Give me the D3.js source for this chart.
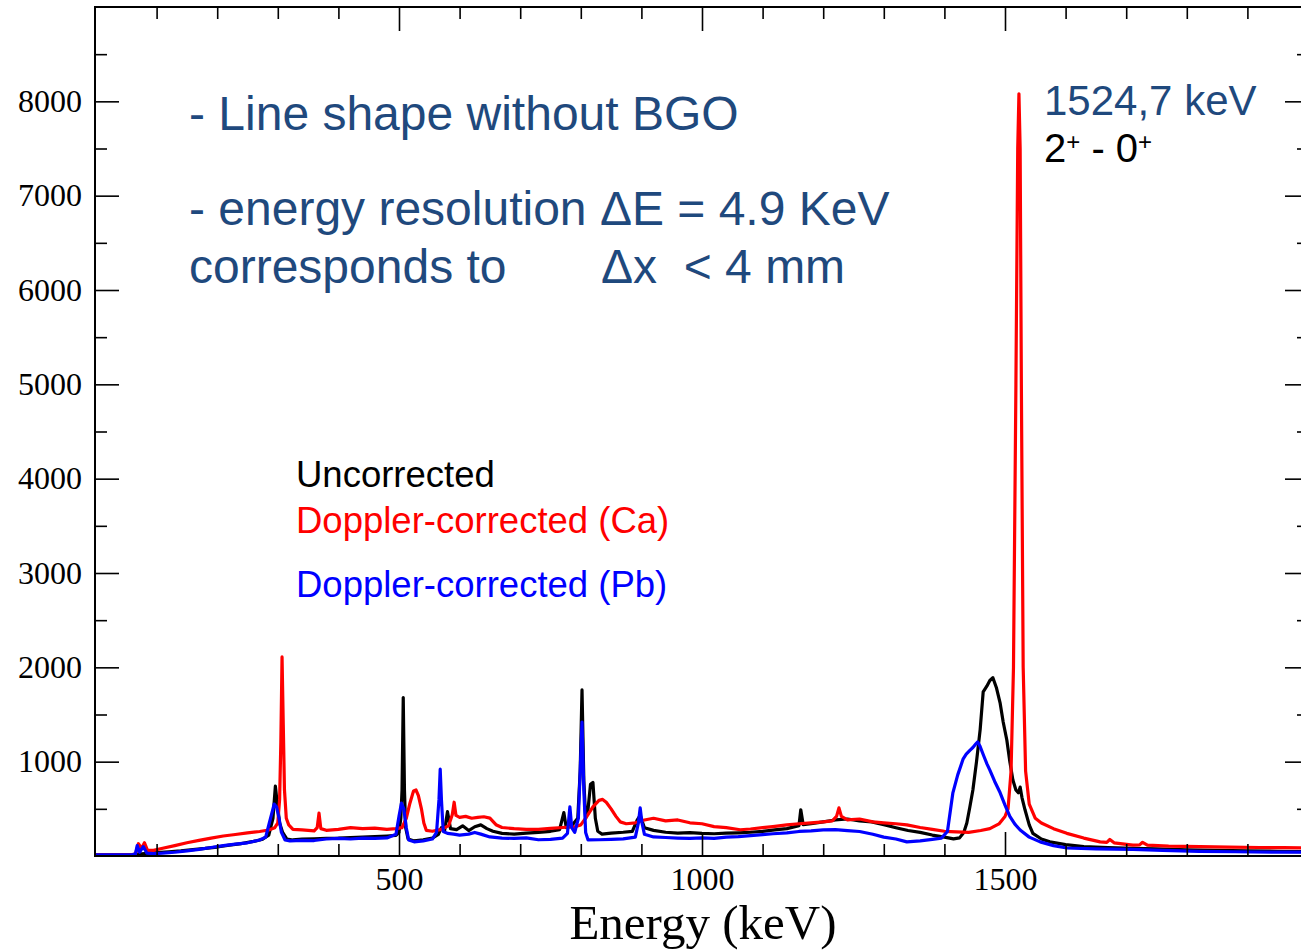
<!DOCTYPE html>
<html>
<head>
<meta charset="utf-8">
<script src="https://cdn.jsdelivr.net/npm/d3@7"></script>
<style>
  html, body { margin: 0; padding: 0; background: #fff; overflow: hidden; }
  svg { display: block; }
</style>
</head>
<body>
<svg id="chart" width="1301" height="950"></svg>
<script>
// ---------------- DATA ----------------
const xMajorTicks = [500, 1000, 1500];
const xMinorTicks = [100, 200, 300, 400, 600, 700, 800, 900, 1100, 1200, 1300, 1400, 1600, 1700, 1800, 1900];
const yMajorTicks = [1000, 2000, 3000, 4000, 5000, 6000, 7000, 8000];
const yMinorTicks = [500, 1500, 2500, 3500, 4500, 5500, 6500, 7500, 8500];

const seriesNames = ["Uncorrected", "Doppler-corrected (Ca)", "Doppler-corrected (Pb)"];

// Uncorrected (black)
const blackE = [0, 30, 60, 70, 80, 90, 100, 120, 140, 160, 180, 200, 220, 240, 260, 275, 285, 292, 296, 299, 303, 308, 315, 325, 340, 360, 380, 400, 420, 440, 460, 480, 495, 500, 503, 505, 507, 509, 511, 515, 525, 540, 555, 565, 570, 575, 580, 585, 595, 605, 615, 625, 635, 645, 655, 670, 690, 710, 730, 750, 765, 772, 776, 785, 795, 799, 802, 805, 808, 812, 816, 820, 824, 828, 835, 850, 870, 885, 893, 898, 905, 920, 940, 960, 980, 1000, 1020, 1040, 1060, 1080, 1100, 1120, 1140, 1160, 1163, 1167, 1180, 1200, 1220, 1240, 1260, 1280, 1300, 1320, 1340, 1360, 1380, 1400, 1415, 1425, 1432, 1437, 1442, 1447, 1453, 1459, 1464, 1470, 1475, 1480, 1486, 1492, 1497, 1503, 1508, 1513, 1518, 1522, 1525, 1528, 1533, 1540, 1546, 1560, 1574, 1600, 1630, 1670, 1711, 1750, 1800, 1850, 1900, 1950, 2000];
const blackC = [12, 12, 15, 20, 25, 30, 35, 45, 55, 68, 80, 95, 115, 132, 155, 178, 220, 400, 740, 560, 350, 250, 180, 170, 178, 182, 188, 190, 196, 200, 206, 212, 218, 250, 400, 700, 1680, 700, 300, 180, 160, 172, 190, 230, 300, 260, 470, 290, 280, 320, 270, 310, 330, 290, 262, 240, 232, 242, 250, 262, 280, 460, 300, 320, 400, 900, 1760, 800, 400, 500, 760, 780, 400, 262, 232, 242, 252, 262, 380, 430, 300, 272, 252, 242, 248, 240, 236, 242, 246, 252, 262, 276, 290, 322, 490, 332, 342, 362, 382, 392, 372, 362, 332, 300, 270, 250, 222, 200, 182, 192, 250, 350, 520, 700, 1000, 1340, 1740, 1800, 1860, 1890, 1780, 1620, 1420, 1230, 1000, 805, 700, 670, 730, 620, 490, 330, 240, 180, 150, 120, 100, 90, 80, 75, 65, 60, 55, 50, 45];

// Doppler-corrected Ca (red)
const redE = [0, 30, 60, 65, 70, 75, 80, 85, 95, 110, 130, 150, 170, 190, 210, 230, 250, 270, 285, 295, 300, 303, 305, 307, 309, 311, 314, 318, 325, 340, 360, 365, 368, 371, 380, 400, 420, 440, 460, 480, 495, 505, 512, 518, 524, 528, 532, 537, 541, 545, 555, 570, 582, 588, 591, 594, 600, 610, 620, 630, 640, 650, 660, 670, 690, 710, 730, 750, 770, 790, 800, 810, 820, 830, 836, 842, 850, 858, 865, 875, 890, 905, 920, 940, 960, 980, 1000, 1020, 1040, 1063, 1080, 1100, 1117, 1140, 1160, 1180, 1200, 1215, 1222, 1226, 1230, 1240, 1260, 1282, 1300, 1320, 1338, 1360, 1380, 1400, 1420, 1440, 1460, 1475, 1490, 1500, 1505, 1510, 1514, 1518, 1521, 1523, 1525, 1527, 1530, 1534, 1540, 1550, 1560, 1580, 1602, 1630, 1657, 1668, 1673, 1680, 1711, 1722, 1727, 1735, 1770, 1822, 1870, 1920, 1960, 2000];
const redC = [12, 12, 15, 20, 130, 80, 140, 60, 60, 82, 110, 140, 165, 190, 212, 228, 246, 260, 276, 300, 350, 600, 1200, 2110, 1400, 700, 400, 330, 282, 276, 266, 300, 455, 290, 272, 282, 300, 290, 296, 282, 290, 300, 400, 560, 690, 700, 640, 500, 350, 272, 262, 282, 322, 440, 570, 430, 410, 420, 400, 410, 416, 402, 332, 302, 290, 282, 282, 292, 302, 310, 330, 420, 520, 590, 600, 570, 500, 420, 362, 342, 352, 382, 400, 372, 382, 352, 342, 312, 300, 278, 286, 300, 312, 330, 342, 352, 362, 372, 420, 510, 420, 382, 392, 362, 352, 342, 330, 302, 282, 262, 256, 250, 270, 290, 340, 420, 500, 900, 2000, 5000, 7500, 8080, 7500, 5000, 2000, 900, 550, 400, 350, 290, 240, 190, 150, 145, 175, 140, 115, 118, 145, 115, 105, 100, 95, 90, 88, 85];

// Doppler-corrected Pb (blue)
const blueE = [0, 30, 60, 65, 68, 72, 78, 84, 95, 110, 130, 150, 170, 190, 210, 230, 250, 270, 280, 286, 290, 294, 298, 302, 306, 312, 320, 340, 360, 380, 400, 420, 440, 460, 480, 495, 500, 504, 508, 512, 516, 525, 540, 555, 562, 566, 568, 570, 573, 580, 590, 600, 615, 625, 635, 650, 670, 690, 710, 730, 750, 770, 778, 782, 785, 790, 796, 799, 802, 805, 808, 812, 830, 850, 870, 890, 895, 898, 901, 905, 920, 940, 960, 980, 1000, 1020, 1040, 1060, 1080, 1100, 1117, 1140, 1160, 1180, 1200, 1220, 1240, 1260, 1282, 1300, 1320, 1338, 1360, 1380, 1395, 1405, 1414, 1422, 1431, 1436, 1442, 1447, 1452, 1455, 1459, 1465, 1470, 1475, 1483, 1492, 1500, 1508, 1516, 1525, 1540, 1558, 1580, 1602, 1650, 1711, 1760, 1820, 1880, 1940, 2000];
const blueC = [12, 12, 15, 20, 110, 40, 100, 30, 25, 30, 40, 55, 70, 90, 110, 125, 140, 170, 200, 350, 450, 550, 520, 400, 250, 170, 160, 166, 164, 180, 186, 180, 190, 186, 192, 230, 420, 560, 500, 300, 170, 150, 160, 180, 250, 600, 920, 600, 260, 240, 232, 222, 232, 250, 232, 202, 190, 186, 192, 172, 176, 190, 240, 520, 300, 250, 400, 900, 1420, 700, 250, 170, 172, 176, 182, 200, 350, 510, 350, 230, 202, 196, 190, 186, 192, 186, 200, 206, 216, 226, 236, 246, 260, 266, 276, 280, 270, 260, 230, 200, 180, 150, 160, 176, 190, 260, 670, 860, 1030, 1080, 1120, 1150, 1190, 1210, 1160, 1060, 980, 910, 790, 670, 540, 420, 340, 275, 200, 150, 110, 85, 75, 70, 60, 50, 45, 42, 40];

// ---------------- CHART ----------------
const svg = d3.select("#chart");
const pL = 95, pR = 1308, pT = 7, pB = 856;

const x = d3.scaleLinear().domain([0, 2000]).range([pL + 1, pR]);
const y = d3.scaleLinear().domain([0, 9000]).range([pB, pT]);

svg.append("defs").append("clipPath").attr("id", "plotclip")
  .append("rect").attr("x", pL).attr("y", pT).attr("width", pR - pL).attr("height", pB - pT);

const line = d3.line().x(d => x(d[0])).y(d => y(d[1]));
const zipS = (E, C) => E.map((e, i) => [e, C[i]]);

const g = svg.append("g").attr("clip-path", "url(#plotclip)");
const traces = [
  { E: blackE, C: blackC, color: "#000000" },
  { E: redE, C: redC, color: "#ff0000" },
  { E: blueE, C: blueC, color: "#0000ff" }
];
traces.forEach(t => {
  g.append("path").datum(zipS(t.E, t.C))
    .attr("d", line).attr("fill", "none")
    .attr("stroke", t.color).attr("stroke-width", 3.2)
    .attr("stroke-linejoin", "round");
});

// Axes
const tickFont = "'Liberation Serif', 'Times New Roman', serif";
function styleAxis(sel) {
  sel.select(".domain").remove();
  sel.selectAll(".tick line").attr("stroke", "#000").attr("stroke-width", 1.6);
  sel.selectAll(".tick text").attr("font-family", tickFont).attr("font-size", 32).attr("fill", "#000");
}

// bottom
svg.append("g").attr("transform", `translate(0,${pB})`)
  .call(d3.axisBottom(x).tickValues(xMinorTicks).tickSize(-12).tickFormat("")).call(styleAxis);
svg.append("g").attr("transform", `translate(0,${pB})`)
  .call(d3.axisBottom(x).tickValues(xMajorTicks).tickSize(-24).tickPadding(11).tickFormat(d3.format("d"))).call(styleAxis);
// top
svg.append("g").attr("transform", `translate(0,${pT})`)
  .call(d3.axisTop(x).tickValues(xMinorTicks).tickSize(-12).tickFormat("")).call(styleAxis);
svg.append("g").attr("transform", `translate(0,${pT})`)
  .call(d3.axisTop(x).tickValues(xMajorTicks).tickSize(-24).tickFormat("")).call(styleAxis);
// left
svg.append("g").attr("transform", `translate(${pL},0)`)
  .call(d3.axisLeft(y).tickValues(yMinorTicks).tickSize(-12).tickFormat("")).call(styleAxis);
svg.append("g").attr("transform", `translate(${pL},0)`)
  .call(d3.axisLeft(y).tickValues(yMajorTicks).tickSize(-24).tickPadding(13).tickFormat(d3.format("d"))).call(styleAxis);
// right
svg.append("g").attr("transform", `translate(${pR},0)`)
  .call(d3.axisRight(y).tickValues(yMinorTicks).tickSize(-11).tickFormat("")).call(styleAxis);
svg.append("g").attr("transform", `translate(${pR},0)`)
  .call(d3.axisRight(y).tickValues(yMajorTicks).tickSize(-23).tickFormat("")).call(styleAxis);

// frame
svg.append("rect").attr("x", pL).attr("y", pT).attr("width", pR - pL).attr("height", pB - pT)
  .attr("fill", "none").attr("stroke", "#000").attr("stroke-width", 2);

// axis title
svg.append("text").attr("x", 703).attr("y", 939).attr("text-anchor", "middle")
  .attr("font-family", tickFont).attr("font-size", 49).attr("fill", "#000")
  .text("Energy (keV)");

// annotations
const sans = "'Liberation Sans', Arial, sans-serif";
const navy = "#1f497d";
function addText(txt, tx, ty, size, color) {
  return svg.append("text").attr("x", tx).attr("y", ty)
    .attr("font-family", sans).attr("font-size", size).attr("fill", color)
    .attr("xml:space", "preserve").style("white-space", "pre").text(txt);
}
addText("- Line shape without BGO", 189, 130, 48, navy);
addText("- energy resolution \u0394E = 4.9 KeV", 189, 225, 48, navy);
addText("corresponds to", 189, 283, 48, navy);
addText("\u0394x  < 4 mm", 601, 283, 48, navy);

addText("1524,7 keV", 1044, 115, 42, navy);
const t2 = svg.append("text").attr("x", 1044).attr("y", 162)
  .attr("font-family", sans).attr("font-size", 40).attr("fill", "#000");
t2.append("tspan").text("2");
t2.append("tspan").attr("font-size", 24).attr("dy", -12).text("+");
t2.append("tspan").attr("dy", 12).attr("xml:space", "preserve").style("white-space", "pre").text(" - 0");
t2.append("tspan").attr("font-size", 24).attr("dy", -12).text("+");

// legend
const legendColors = ["#000000", "#ff0000", "#0000ff"];
const legendY = [487, 533, 597];
seriesNames.forEach((n, i) => addText(n, 296, legendY[i], 36.5, legendColors[i]));
</script>
</body>
</html>
